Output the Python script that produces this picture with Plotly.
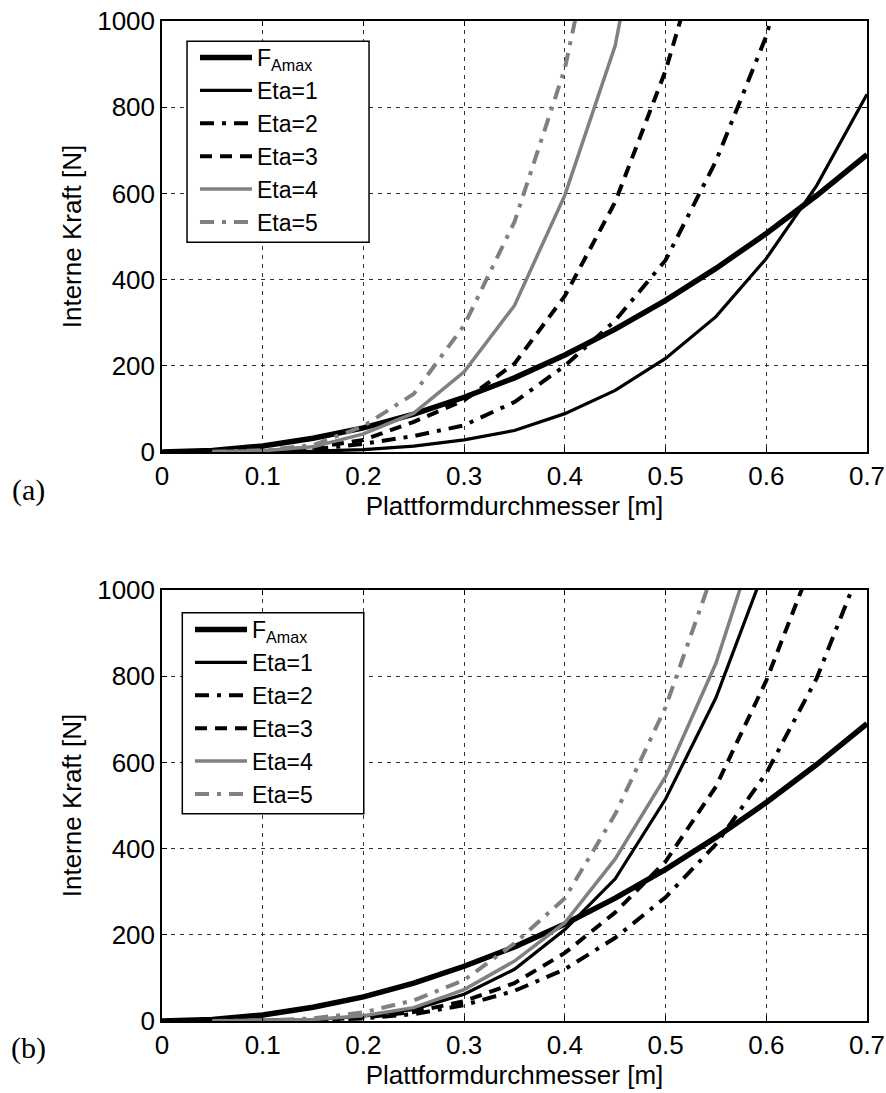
import plotly.graph_objects as go
from plotly.subplots import make_subplots

# Platform diameter [m]
diameter = [0.0, 0.05, 0.10, 0.15, 0.20, 0.25, 0.30, 0.35,
            0.40, 0.45, 0.50, 0.55, 0.60, 0.65, 0.70]

# Maximum admissible actuator force [N] (same in both panels)
f_amax = [0, 3.5, 14, 32, 56, 88, 127, 172, 225, 285, 352, 426, 507, 595, 690]

# Panel (a): internal force [N] per Eta
eta1_a = [None, 0, 0.4, 1.8, 5.5, 13.5, 28, 50, 89, 143, 217, 314, 449, 618, 830]
eta2_a = [None, 0.1, 1.5, 6, 19, 37, 62, 116, 200, 305, 445, 675, 965, 1400, None]
eta3_a = [None, 0.1, 2, 10, 28, 70, 120, 205, 362, 580, 885, 1280, None, None, None]
eta4_a = [None, 0.3, 3, 12, 42, 90, 186, 340, 596, 943, 1550, None, None, None, None]
eta5_a = [None, 0.3, 4, 16, 60, 135, 294, 534, 890, 1440, None, None, None, None, None]

# Panel (b): internal force [N] per Eta
eta1_b = [None, 0.05, 0.7, 3, 11, 27, 62, 120, 212, 330, 515, 750, 1060, None, None]
eta2_b = [None, 0.02, 0.3, 1.5, 6, 16, 37, 70, 120, 193, 287, 410, 575, 795, 1090]
eta3_b = [None, 0.03, 0.4, 2.2, 8, 21, 46, 88, 158, 252, 370, 544, 790, 1090, None]
eta4_b = [None, 0.05, 0.8, 3.5, 12, 31, 73, 139, 228, 376, 567, 830, 1190, None, None]
eta5_b = [None, 0.1, 1.2, 6, 20, 48, 95, 180, 285, 480, 728, 1060, None, None, None]

x_ticks = [0, 0.1, 0.2, 0.3, 0.4, 0.5, 0.6, 0.7]
x_ticklabels = ["0", "0.1", "0.2", "0.3", "0.4", "0.5", "0.6", "0.7"]
y_ticks = [0, 200, 400, 600, 800, 1000]

GRAY = "#808080"
DASHDOT = "14px,8px,4px,8px"
DASHED = "12px,8px"
FONT = "Liberation Sans, Arial, sans-serif"
SERIF = "Liberation Serif, Times New Roman, serif"

styles = [
    ("F<sub>Amax</sub>", "black", 5.5, "solid"),
    ("Eta=1", "black", 3.2, "solid"),
    ("Eta=2", "black", 4.0, DASHDOT),
    ("Eta=3", "black", 4.0, DASHED),
    ("Eta=4", GRAY, 3.5, "solid"),
    ("Eta=5", GRAY, 4.0, DASHDOT),
]

panels = [
    (1, "legend", [f_amax, eta1_a, eta2_a, eta3_a, eta4_a, eta5_a]),
    (2, "legend2", [f_amax, eta1_b, eta2_b, eta3_b, eta4_b, eta5_b]),
]

fig = make_subplots(rows=2, cols=1, vertical_spacing=0.138)

for row, legend_name, series in panels:
    for (name, color, width, dash), values in zip(styles, series):
        fig.add_trace(
            go.Scatter(
                x=diameter, y=values, mode="lines", name=name,
                line=dict(color=color, width=width, dash=dash),
                legend=legend_name, showlegend=True,
            ),
            row=row, col=1,
        )

axis_common = dict(
    showline=True, linecolor="black", linewidth=1.5, mirror="ticks",
    ticks="inside", ticklen=5, tickwidth=1, tickcolor="black",
    showgrid=True, gridcolor="#333333", gridwidth=1, griddash="4px,5px",
    zeroline=False, automargin=False,
    tickfont=dict(family=FONT, size=26, color="black"),
)

for row, standoff in ((1, 0), (2, 6)):
    fig.update_xaxes(
        range=[0, 0.7], tickvals=x_ticks, ticktext=x_ticklabels,
        title=dict(text="Plattformdurchmesser [m]", standoff=standoff,
                   font=dict(family=FONT, size=26, color="black")),
        row=row, col=1, **axis_common,
    )
    fig.update_yaxes(
        range=[0, 1000], tickvals=y_ticks,
        title=dict(text="Interne Kraft [N]", standoff=8,
                   font=dict(family=FONT, size=26, color="black")),
        row=row, col=1, **axis_common,
    )

fig.update_layout(yaxis=dict(domain=[0.569, 1.0]), yaxis2=dict(domain=[0.0, 0.431]))

# Legend frames: white boxes with a black border, drawn over the curves
legend_frames = [
    dict(xref="x domain", yref="y domain", x0=0.0355, x1=0.2937, y0=0.4865, y1=0.953),
    dict(xref="x2 domain", yref="y2 domain", x0=0.0288, x1=0.2862, y0=0.4809, y1=0.9474),
]
for frame in legend_frames:
    fig.add_shape(type="rect", layer="above", fillcolor="white",
                  line=dict(color="black", width=1.5), **frame)

legend_common = dict(
    bgcolor="rgba(0,0,0,0)", borderwidth=0,
    font=dict(family=FONT, size=23, color="black"),
    xanchor="left", yanchor="top", tracegroupgap=0, itemwidth=52,
)

fig.update_layout(
    width=886, height=1093,
    margin=dict(l=162, r=19, t=21, b=72, autoexpand=False),
    paper_bgcolor="white", plot_bgcolor="white",
    font=dict(family=FONT, size=26, color="black"),
    legend=dict(x=0.0468, y=0.985, **legend_common),
    legend2=dict(x=0.0397, y=0.413, **legend_common),
    annotations=[
        dict(text="(a)", xref="paper", yref="paper", x=-0.19, y=0.531,
             xanchor="center", yanchor="middle", showarrow=False,
             font=dict(family=SERIF, size=30, color="black")),
        dict(text="(b)", xref="paper", yref="paper", x=-0.19, y=-0.027,
             xanchor="center", yanchor="middle", showarrow=False,
             font=dict(family=SERIF, size=30, color="black")),
    ],
)

fig.write_html("out.html")
